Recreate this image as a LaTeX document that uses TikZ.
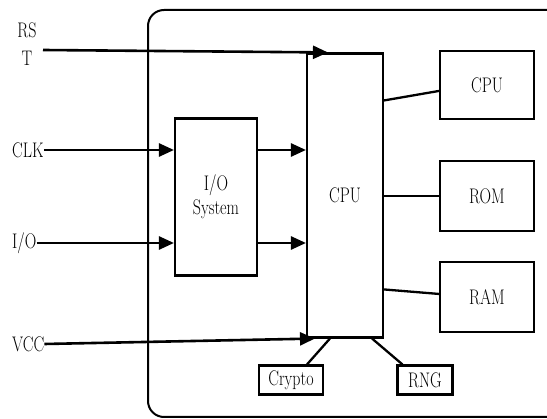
\documentclass[tikz,border=0pt]{standalone}
\usepackage{graphicx}
\usetikzlibrary{arrows.meta,calc}
\newcommand{\tallt}[1]{\scalebox{1}[1.32]{#1}}
\begin{document}
\begin{tikzpicture}[x=1pt,y=-1pt,
  box/.style={draw,line width=2.1pt,inner sep=0pt,align=center,font=\fontsize{16}{24}\selectfont},
  lbl/.style={inner sep=0pt,align=center,font=\fontsize{16}{20}\selectfont},
  arr/.style={line width=2.6pt,-{Triangle[length=15pt,width=13pt]}},
  conn/.style={line width=2.3pt}]
\useasboundingbox (0,0) rectangle (547,419);
\fill[white] (0,0) rectangle (547,419);
\draw[line width=2pt,rounded corners=16pt] (148,10) rectangle (570,417);
% blocks
\node[box,minimum width=82pt,minimum height=157pt] (io) at (216,197) {\tallt{I/O}\\\tallt{System}};
\node[box,minimum width=76pt,minimum height=284pt] (cpu) at (345,195.5) {\tallt{CPU}};
\node[box,minimum width=94pt,minimum height=68pt] (cpu2) at (487,85) {\tallt{CPU}};
\node[box,minimum width=94pt,minimum height=70pt] (rom) at (487,196) {\tallt{ROM}};
\node[box,minimum width=94pt,minimum height=70pt] (ram) at (487,297) {\tallt{RAM}};
\node[box,minimum width=64pt,minimum height=29pt] (crypto) at (291,380) {\tallt{Crypto}};
\node[box,minimum width=55pt,minimum height=29pt] (rng) at (425,380) {\tallt{RNG}};
% labels
\node[lbl] (rs) at (27,30) {\tallt{RS}};
\node[lbl] (t) at (27,58) {\tallt{T}};
\node[lbl,anchor=west] (clk) at (12,150) {\tallt{CLK}};
\node[lbl,anchor=west] (iol) at (12,243) {\tallt{I/O}};
\node[lbl,anchor=west] (vcc) at (12,344) {\tallt{VCC}};
% connectors
\coordinate (rsts) at (43,50);
\draw[arr] (rsts) -- ($(cpu.north west)+(22,0)$);
\draw[arr] (clk.east) -- (io.west |- clk.east);
\draw[arr] (iol.east) -- (io.west |- iol.east);
\draw[arr] (io.east |- clk.east) -- (cpu.west |- clk.east);
\draw[arr] (io.east |- iol.east) -- (cpu.west |- iol.east);
\draw[arr] (vcc.east) -- ($(cpu.south west)+(9,0)$);
\draw[conn] ($(cpu.north east)+(0,48)$) -- ($(cpu2.north west)+(0,41)$);
\draw[conn] (cpu.east |- rom.west) -- (rom.west);
\draw[conn] ($(cpu.north east)+(0,237)$) -- ($(ram.north west)+(0,33)$);
\draw[conn] ($(crypto.north)+(16,0)$) -- ($(cpu.south west)+(24,0)$);
\draw[conn] ($(cpu.south east)+(-12,0)$) -- ($(rng.north west)+(6,0)$);
\end{tikzpicture}
\end{document}
